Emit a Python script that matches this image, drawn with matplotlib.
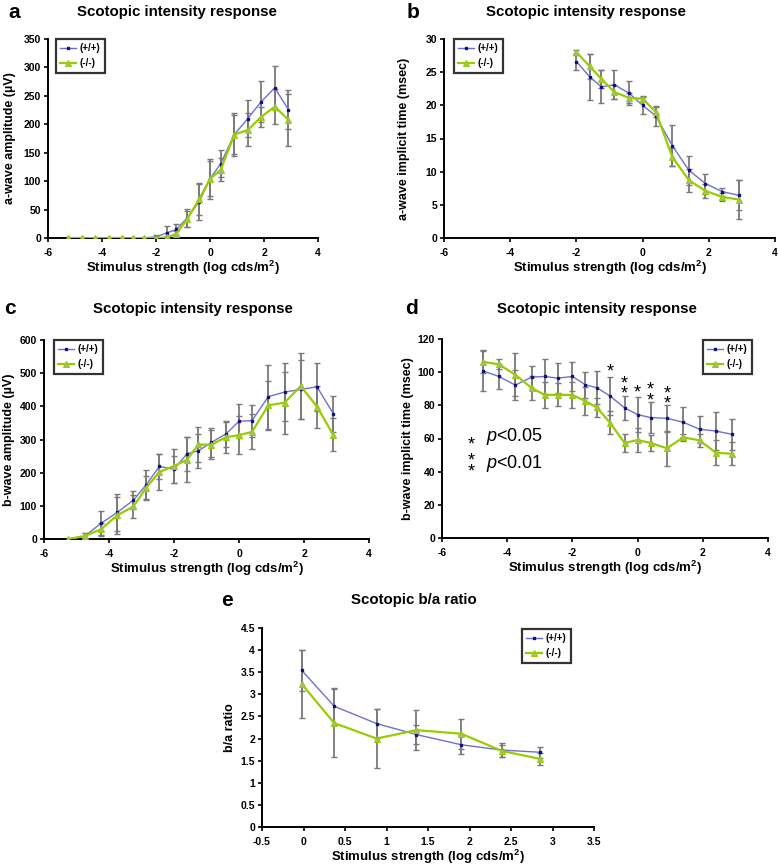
import matplotlib
matplotlib.use("Agg")
import matplotlib.pyplot as plt
from matplotlib.ticker import MultipleLocator, FuncFormatter

plt.rcParams['font.family'] = ['Liberation Sans', 'DejaVu Sans']
plt.rcParams['mathtext.fontset'] = 'custom'
plt.rcParams['mathtext.it'] = 'Liberation Sans:italic'
plt.rcParams['mathtext.rm'] = 'Liberation Sans'
plt.rcParams['mathtext.bf'] = 'Liberation Sans:bold'

# ---------------- data ----------------
series_names = ["(+/+)", "(-/-)"]

a_x = [-5.25, -4.75, -4.25, -3.75, -3.25, -2.85, -2.45, -2.0, -1.6, -1.25,
       -0.85, -0.4, 0.0, 0.4, 0.9, 1.4, 1.9, 2.4, 2.9]
a_wt = [0, 0, 0, 0, 0, 0, 0, 2, 9, 15, 35, 64, 104, 131, 182, 210, 240, 264, 226]
a_wt_err = [0, 0, 0, 0, 0, 0, 0, 3, 12, 10, 16, 33, 35, 23, 38, 33, 36, 38, 34]
a_ko = [0, 0, 0, 0, 0, 0, 0, 0, 1, 7, 33, 68, 104, 120, 182, 190, 213, 231, 208]
a_ko_err = [0, 0, 0, 0, 0, 0, 0, 0, 3, 5, 14, 27, 31, 20, 35, 29, 18, 31, 46]

b_x = [-2.0, -1.6, -1.25, -0.85, -0.4, 0.0, 0.4, 0.9, 1.4, 1.9, 2.4, 2.9]
b_wt = [26.6, 24.3, 22.8, 23.1, 21.8, 20.0, 18.4, 13.9, 10.2, 8.2, 7.0, 6.45]
b_wt_err = [1.2, 3.5, 2.5, 2.2, 1.8, 1.3, 1.5, 3.1, 2.2, 1.5, 0.6, 2.3]
b_ko = [28.0, 25.9, 24.0, 22.0, 21.1, 21.0, 19.0, 12.2, 8.7, 7.1, 6.2, 5.8]
b_ko_err = [0.4, 1.9, 1.4, 1.0, 0.7, 0.4, 0.7, 1.4, 1.7, 1.0, 0.6, 2.9]

c_x = [-5.25, -4.75, -4.25, -3.75, -3.25, -2.85, -2.45, -2.0, -1.6, -1.25,
       -0.85, -0.4, 0.0, 0.4, 0.9, 1.4, 1.9, 2.4, 2.9]
c_wt = [0, 8, 47, 80, 117, 164, 219, 210, 257, 266, 291, 317, 355, 357, 429, 443, 451, 459, 378]
c_wt_err = [0, 10, 36, 57, 28, 45, 38, 41, 51, 52, 43, 40, 51, 48, 97, 87, 90, 73, 54]
c_ko = [0, 9, 29, 71, 98, 155, 202, 220, 239, 285, 284, 307, 313, 323, 403, 411, 461, 399, 314]
c_ko_err = [0, 10, 20, 57, 34, 35, 53, 50, 68, 53, 44, 47, 58, 53, 73, 93, 100, 63, 50]

d_x = [-4.75, -4.25, -3.75, -3.25, -2.85, -2.45, -2.0, -1.6, -1.25,
       -0.85, -0.4, 0.0, 0.4, 0.9, 1.4, 1.9, 2.4, 2.9]
d_wt = [100.8, 97.4, 92.2, 97.0, 97.4, 96.4, 97.4, 92.4, 90.6, 85.7, 78.5, 74.4,
        72.6, 72.2, 69.8, 65.6, 64.5, 62.5]
d_wt_err = [12, 7.5, 9, 7, 10.5, 9, 8.5, 8, 10, 11.3, 7.2, 10.5, 9.3, 8, 9, 8.2, 11.7, 9.2]
d_ko = [106.3, 104.7, 98.4, 90.4, 86.3, 86.3, 86.3, 82.5, 78.7, 69.6, 57.3, 59.1,
        57.3, 54.1, 60.7, 58.9, 51.4, 50.8]
d_ko_err = [7, 3, 13, 7, 8, 7, 8, 8.3, 6, 7, 5.5, 7.3, 4.7, 10.5, 2, 3.8, 7.4, 6.8]

d_sig_x = [-0.85, -0.4, 0.0, 0.4, 0.9]
d_sig_y = [103, 96, 90.4, 92, 90]
d_sig_marks = ["*", "**", "*", "**", "**"]

e_x = [-0.02, 0.37, 0.88, 1.36, 1.9, 2.39, 2.85]
e_wt = [3.54, 2.73, 2.34, 2.09, 1.86, 1.74, 1.69]
e_wt_err = [0.47, 0.42, 0.33, 0.21, 0.21, 0.15, 0.13]
e_ko = [3.23, 2.35, 2.00, 2.19, 2.11, 1.72, 1.54]
e_ko_err = [0.77, 0.77, 0.66, 0.45, 0.34, 0.13, 0.14]

panel_titles = ["Scotopic intensity response", "Scotopic intensity response",
                "Scotopic intensity response", "Scotopic intensity response",
                "Scotopic b/a ratio"]
panel_letters = ["a", "b", "c", "d", "e"]
y_labels = ["a-wave amplitude (\u00b5V)", "a-wave implicit time (msec)",
            "b-wave amplitude (\u00b5V)", "b-wave implicit time (msec)", "b/a ratio"]
x_label = "Stimulus strength (log cds/m$^\\mathbf{2}$)"

# ---------------- styling ----------------
W, H = 778, 866
fig = plt.figure(figsize=(W / 100, H / 100), dpi=100)

BLUE_LINE = "#7070cc"
BLUE_MK = "#101080"
GREEN = "#99cc00"
GREEN_FILL = "#a8b888"
ERR = "#7a7a7a"
TICK_FS = 7.5
LAB_FS = 9


def px_axes(x0, y0, x1, y1):
    return fig.add_axes([x0 / W, 1 - y1 / H, (x1 - x0) / W, (y1 - y0) / H])


def draw(ax, x, wt, wt_err, ko, ko_err, xlim, xstep, ylim, ystep):
    ax.errorbar(x, wt, yerr=wt_err, fmt='none', ecolor=ERR, elinewidth=1.3,
                capsize=2, capthick=1.0, zorder=2)
    ax.errorbar(x, ko, yerr=ko_err, fmt='none', ecolor=ERR, elinewidth=1.3,
                capsize=2, capthick=1.0, zorder=2)
    ax.plot(x, wt, color=BLUE_LINE, lw=1.0, marker='s', ms=2.0, mfc=BLUE_MK,
            mec=BLUE_MK, label=series_names[0], zorder=3)
    ax.plot(x, ko, color=GREEN, lw=1.6, marker='^', ms=5, mfc=GREEN_FILL,
            mec=GREEN, mew=0.8, label=series_names[1], zorder=3)
    ax.set_xlim(*xlim)
    ax.set_ylim(*ylim)
    ax.xaxis.set_major_locator(MultipleLocator(xstep))
    ax.yaxis.set_major_locator(MultipleLocator(ystep))
    ax.xaxis.set_major_formatter(FuncFormatter(lambda v, p: f"{v:g}"))
    ax.yaxis.set_major_formatter(FuncFormatter(lambda v, p: f"{v:g}"))
    for s in ["top", "right"]:
        ax.spines[s].set_visible(False)
    for s in ["left", "bottom"]:
        ax.spines[s].set_linewidth(1.4)
    ax.tick_params(axis='both', direction='out', length=3, width=1.2,
                   labelsize=TICK_FS)
    ax.tick_params(axis='x', pad=4)
    ax.tick_params(axis='y', pad=2)
    for lab in ax.get_xticklabels() + ax.get_yticklabels():
        lab.set_fontweight('bold')
    ax.set_xlabel(x_label, fontsize=LAB_FS + 0.5, fontweight='bold', labelpad=1)


def add_legend(ax, loc, anchor):
    leg = ax.legend(loc=loc, bbox_to_anchor=anchor, frameon=True, fancybox=False,
                    edgecolor='black', fontsize=7, handlelength=1.6,
                    handletextpad=0.4, borderpad=0.45, labelspacing=0.5,
                    borderaxespad=0)
    leg.get_frame().set_linewidth(1.6)
    for t in leg.get_texts():
        t.set_fontweight('bold')
    return leg


ax_a = px_axes(48, 39, 318, 238)
draw(ax_a, a_x, a_wt, a_wt_err, a_ko, a_ko_err, (-6, 4), 2, (0, 350), 50)
add_legend(ax_a, "upper left", (0.03, 1.0))
ax_a.set_ylabel(y_labels[0], fontsize=LAB_FS, fontweight='bold')
ax_a.yaxis.set_label_coords(-0.12, 0.5)

ax_b = px_axes(444, 39, 775, 238)
draw(ax_b, b_x, b_wt, b_wt_err, b_ko, b_ko_err, (-6, 4), 2, (0, 30), 5)
add_legend(ax_b, "upper left", (0.03, 1.0))
ax_b.set_ylabel(y_labels[1], fontsize=LAB_FS, fontweight='bold')
ax_b.yaxis.set_label_coords(-0.103, 0.5)

ax_c = px_axes(44, 340, 369, 539)
draw(ax_c, c_x, c_wt, c_wt_err, c_ko, c_ko_err, (-6, 4), 2, (0, 600), 100)
add_legend(ax_c, "upper left", (0.03, 1.0))
ax_c.set_ylabel(y_labels[2], fontsize=LAB_FS, fontweight='bold')
ax_c.yaxis.set_label_coords(-0.089, 0.5)

ax_d = px_axes(442, 339, 768, 538)
draw(ax_d, d_x, d_wt, d_wt_err, d_ko, d_ko_err, (-6, 4), 2, (0, 120), 20)
add_legend(ax_d, "upper right", (0.95, 0.995))
ax_d.set_ylabel(y_labels[3], fontsize=LAB_FS, fontweight='bold')
ax_d.yaxis.set_label_coords(-0.086, 0.5)
for sx, sy, m in zip(d_sig_x, d_sig_y, d_sig_marks):
    txt = "\n".join(list(m))
    ax_d.text(sx, sy + 2.2, txt, ha='center', va='top', fontsize=13,
              linespacing=0.5)
ax_d.text(-5.1, 61.5, "*", ha='center', va='top', fontsize=13)
ax_d.text(-4.65, 61, "$\\it{p}$<0.05", ha='left', va='center', fontsize=13)
ax_d.text(-5.1, 51.5, "*\n*", ha='center', va='top', fontsize=13, linespacing=0.5)
ax_d.text(-4.65, 45, "$\\it{p}$<0.01", ha='left', va='center', fontsize=13)

ax_e = px_axes(262, 628, 594, 827)
draw(ax_e, e_x, e_wt, e_wt_err, e_ko, e_ko_err, (-0.5, 3.5), 0.5, (0, 4.5), 0.5)
add_legend(ax_e, "upper right", (0.93, 0.995))
ax_e.set_ylabel(y_labels[4], fontsize=LAB_FS, fontweight='bold')
ax_e.yaxis.set_label_coords(-0.078, 0.5)

# titles and panel letters
title_pos = [(177, 12), (586, 12), (193, 309), (597, 309), (414, 600)]
letter_pos = [(14, 12), (413, 12), (10, 309), (412, 309), (227, 600)]
for t, (tx, ty) in zip(panel_titles, title_pos):
    fig.text(tx / W, 1 - ty / H, t, ha='center', va='center', fontsize=10.8,
             fontweight='bold')
for l, (lx, ly) in zip(panel_letters, letter_pos):
    fig.text(lx / W, 1 - ly / H, l, ha='center', va='center', fontsize=15,
             fontweight='bold')

fig.savefig("out.png", dpi=100, facecolor='white')
